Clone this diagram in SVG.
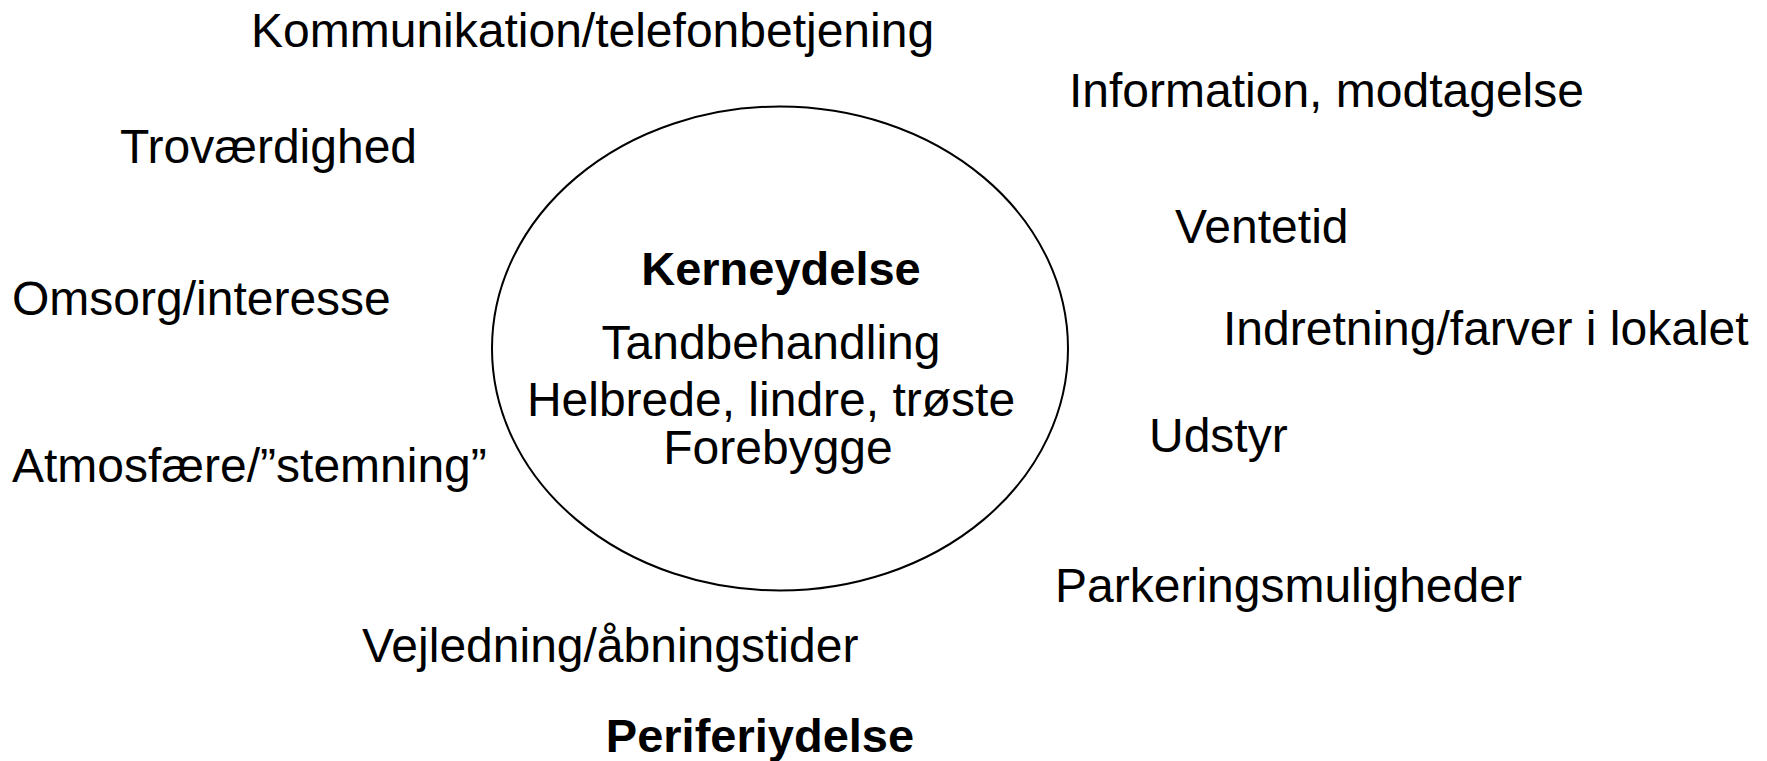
<svg xmlns="http://www.w3.org/2000/svg" width="1767" height="761" viewBox="0 0 1767 761">
<style>
text{font-family:"Liberation Sans",Arial,sans-serif;font-size:48px;fill:#000}
.b{font-weight:bold;font-size:47px}
.c{text-anchor:middle}
.core{fill:#fff;stroke:#000;stroke-width:2}
</style>
<rect width="1767" height="761" fill="#fff"/>
<g id="connectors"></g>
<g id="core">
<ellipse class="core" cx="780" cy="348.5" rx="288" ry="242"/>
<text class="b c" x="781" y="285">Kerneydelse</text>
<text class="c" x="771" y="359">Tandbehandling</text>
<text class="c" x="771" y="416">Helbrede, lindre, trøste</text>
<text class="c" x="778" y="464">Forebygge</text>
</g>
<g id="n-kommunikation"><text x="251" y="47">Kommunikation/telefonbetjening</text></g>
<g id="n-information"><text x="1069" y="107">Information, modtagelse</text></g>
<g id="n-trovaerdighed"><text x="120" y="163">Troværdighed</text></g>
<g id="n-ventetid"><text x="1175" y="243">Ventetid</text></g>
<g id="n-omsorg"><text x="12" y="315">Omsorg/interesse</text></g>
<g id="n-indretning"><text x="1223" y="345">Indretning/farver i lokalet</text></g>
<g id="n-udstyr"><text x="1149" y="452">Udstyr</text></g>
<g id="n-atmosfaere"><text x="12" y="482">Atmosfære/”stemning”</text></g>
<g id="n-parkering"><text x="1055" y="602">Parkeringsmuligheder</text></g>
<g id="n-vejledning"><text x="362" y="662">Vejledning/åbningstider</text></g>
<g id="n-periferiydelse"><text class="b c" x="760" y="752">Periferiydelse</text></g>
</svg>
